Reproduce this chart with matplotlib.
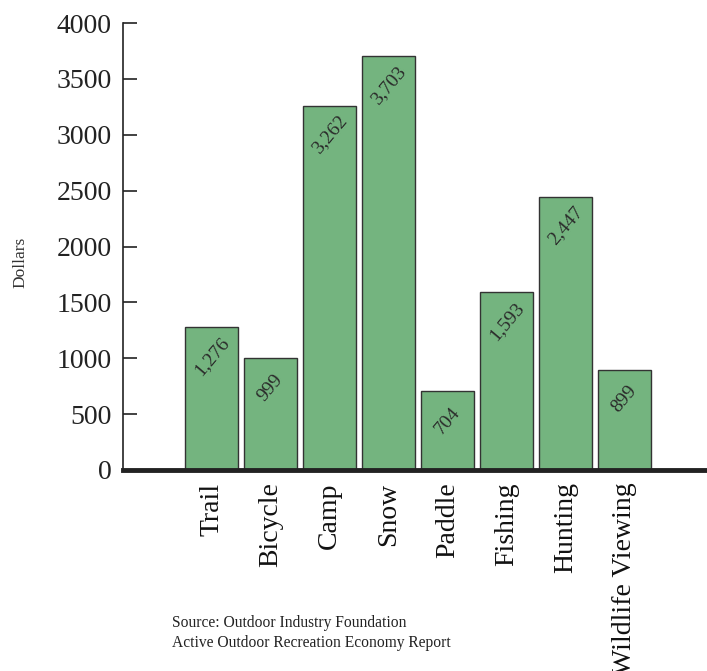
import matplotlib
matplotlib.use("Agg")
import matplotlib.pyplot as plt

categories = ["Trail", "Bicycle", "Camp", "Snow", "Paddle", "Fishing", "Hunting", "Wildlife Viewing"]
values = [1276, 999, 3262, 3703, 704, 1593, 2447, 899]
yticks = [0, 500, 1000, 1500, 2000, 2500, 3000, 3500, 4000]
source_lines = ["Source: Outdoor Industry Foundation",
                "Active Outdoor Recreation Economy Report"]

plt.rcParams["font.family"] = ["Liberation Serif", "DejaVu Serif"]

fig = plt.figure(figsize=(7.07, 6.71), dpi=100)
ax = fig.add_axes([0.174, 0.2996, 0.826, 0.666])

x = list(range(len(categories)))
ax.bar(x, values, width=0.91, color="#74B47F", edgecolor="#333333", linewidth=1.0, zorder=2)

for xi, v in zip(x, values):
    ax.annotate(f"{v:,}", xy=(xi, v), xytext=(0, -21), textcoords="offset points",
                rotation=50, ha="center", va="center", fontsize=14, color="#2a2a2a",
                rotation_mode="anchor", zorder=3)

ax.set_xlim(-1.5, 8.4)
ax.set_ylim(0, 4000)
ax.set_yticks(yticks)
ax.set_yticklabels([str(t) for t in yticks], fontsize=20)
ax.set_xticks(x)
ax.set_xticklabels(categories, rotation=90, fontsize=20, va="top", ha="center")

ax.tick_params(axis="y", direction="in", length=10, width=1.2, pad=8, colors="#222222")
ax.tick_params(axis="x", length=0, pad=9, colors="#111111")

for s in ["top", "right"]:
    ax.spines[s].set_visible(False)
ax.spines["left"].set_linewidth(1.2)
ax.spines["left"].set_color("#222222")
ax.spines["bottom"].set_linewidth(3.5)
ax.spines["bottom"].set_color("#222222")
ax.spines["bottom"].set_zorder(4)

fig.text(20 / 707, 1 - 262 / 671, "Dollars", rotation=90, ha="center", va="center",
         fontsize=12.5, color="#333333")

for i, line in enumerate(source_lines):
    fig.text(172 / 707, 1 - (623 + 20 * i) / 671, line, ha="left", va="center",
             fontsize=11.2, color="#222222")

fig.savefig("out.png", dpi=100)
